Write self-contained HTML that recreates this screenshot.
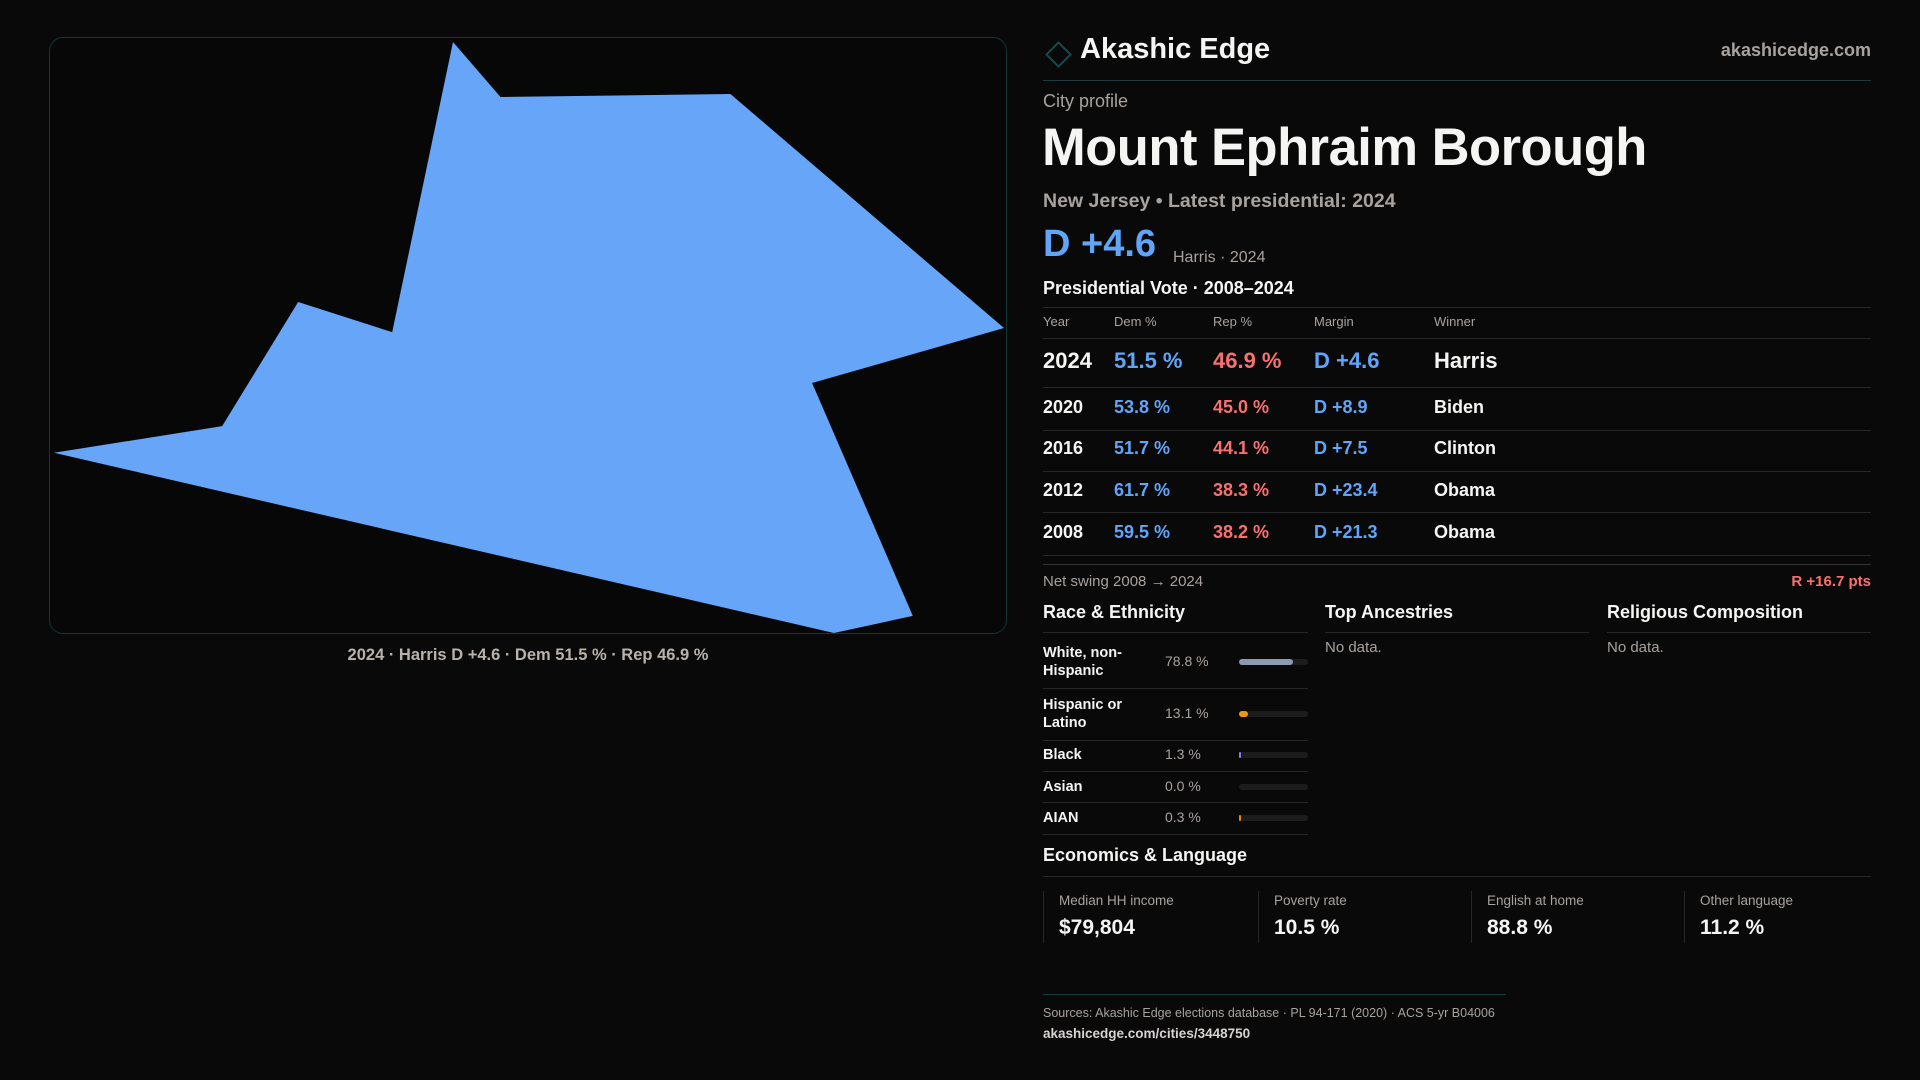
<!DOCTYPE html>
<html><head><meta charset="utf-8">
<style>
*{margin:0;padding:0;box-sizing:border-box}
body{width:1920px;height:1080px;background:#0a0909;color:#f5f5f4;font-family:"Liberation Sans",sans-serif;position:relative;overflow:hidden}
.a{position:absolute;white-space:nowrap}
.muted{color:#a8a29e}
.blue{color:#60a5fa}
.red{color:#f87171}
.hl{position:absolute;height:1px;background:#262626}
.bar{position:absolute;left:1239px;width:69px;height:6px;border-radius:3px;background:#1c1c1c}
.bar i{position:absolute;left:0;top:0;height:6px;border-radius:3px}
</style></head><body>
<div class="a" style="left:49px;top:37px;width:958px;height:597px;border:1px solid #12363a;border-radius:14px;background:#070707"></div>
<svg class="a" style="left:0;top:0" width="1010" height="640">
<polygon id="shape" fill="#66a5f8"/>
</svg>
<div class="a muted" style="left:49px;width:958px;text-align:center;top:646px;font-size:16.5px;font-weight:bold;color:#b8b2ac">2024 · Harris D +4.6 · Dem 51.5 % · Rep 46.9 %</div>

<div class="a" style="left:1049px;top:45px;width:19px;height:19px;border:2px solid #0f4c50;transform:rotate(45deg)"></div>
<div class="a" style="left:1080px;top:33px;font-size:29px;font-weight:bold">Akashic Edge</div>
<div class="a muted" style="right:49px;top:40px;font-size:18px;font-weight:bold">akashicedge.com</div>
<div class="hl" style="left:1043px;width:828px;top:80px;background:#1e3a3c"></div>
<div class="a muted" style="left:1043px;top:91px;font-size:18px">City profile</div>
<div class="a" style="left:1042px;top:117px;font-size:52.5px;font-weight:bold;letter-spacing:-0.5px">Mount Ephraim Borough</div>
<div class="a muted" style="left:1043px;top:190px;font-size:19.5px;font-weight:bold">New Jersey • Latest presidential: 2024</div>
<div class="a blue" style="left:1043px;top:223px;font-size:38px;font-weight:bold">D +4.6</div>
<div class="a muted" style="left:1173px;top:249px;font-size:16px">Harris · 2024</div>
<div class="a" style="left:1043px;top:278px;font-size:18px;font-weight:bold">Presidential Vote · 2008–2024</div>
<div class="hl" style="left:1043px;width:828px;top:307px"></div>
<div class="hl" style="left:1043px;width:828px;top:564px;background:#333"></div>
<div class="a muted" style="left:1043px;top:573px;font-size:15px">Net swing 2008 → 2024</div>
<div class="a red" style="right:49px;top:573px;font-size:15px;font-weight:bold">R +16.7 pts</div>

<div class="a" style="left:1043px;top:602px;font-size:18px;font-weight:bold">Race &amp; Ethnicity</div>
<div class="hl" style="left:1043px;width:265px;top:632px"></div>
<div class="a" style="left:1325px;top:602px;font-size:18px;font-weight:bold">Top Ancestries</div>
<div class="hl" style="left:1325px;width:264px;top:632px"></div>
<div class="a muted" style="left:1325px;top:639px;font-size:15px">No data.</div>
<div class="a" style="left:1607px;top:602px;font-size:18px;font-weight:bold">Religious Composition</div>
<div class="hl" style="left:1607px;width:264px;top:632px"></div>
<div class="a muted" style="left:1607px;top:639px;font-size:15px">No data.</div>

<div class="a" style="left:1043px;top:845px;font-size:18px;font-weight:bold">Economics &amp; Language</div>
<div class="hl" style="left:1043px;width:828px;top:876px"></div>

<div class="hl" style="left:1043px;width:463px;top:994px;background:#12393c"></div>
<div class="a muted" style="left:1043px;top:1006px;font-size:12.5px">Sources: Akashic Edge elections database · PL 94-171 (2020) · ACS 5-yr B04006</div>
<div class="a" style="left:1043px;top:1026px;font-size:13.5px;font-weight:bold;color:#d6d3d1">akashicedge.com/cities/3448750</div>

<script>
const shapeX=[0.42,0.47,0.712,1.0,0.798,0.904,0.821,0.0,0.177,0.257,0.356];
const shapeY=[0.0,0.093,0.088,0.484,0.577,0.971,1.0,0.695,0.65,0.44,0.491];
const years=["2024","2020","2016","2012","2008"];
const dem=[51.5,53.8,51.7,61.7,59.5];
const rep=[46.9,45.0,44.1,38.3,38.2];
const margins=["D +4.6","D +8.9","D +7.5","D +23.4","D +21.3"];
const winners=["Harris","Biden","Clinton","Obama","Obama"];
const raceLabels=["White, non-<br>Hispanic","Hispanic or<br>Latino","Black","Asian","AIAN"];
const raceValues=[78.8,13.1,1.3,0.0,0.3];
const raceColors=["#8a9ab0","#e89a10","#8b7cf6","#888","#e8860c"];
const statLabels=["Median HH income","Poverty rate","English at home","Other language"];
const statValues=["$79,804","10.5 %","88.8 %","11.2 %"];

const sx=v=>54+v*(1004-54), sy=v=>42+v*(633-42);
const poly=document.getElementById('shape');
poly.setAttribute('points',shapeX.map((x,i)=>sx(x)+','+sy(shapeY[i])).join(' '));

function mk(parent,html,style,name,inter){const d=document.createElement('div');d.className='a';d.innerHTML=html;d.style.cssText=style;


parent.appendChild(d);return d;}
const body=document.body;
const cols=[1043,1114,1213,1314,1434];
["Year","Dem %","Rep %","Margin","Winner"].forEach((h,i)=>mk(body,h,`left:${cols[i]}px;top:314px;font-size:13px;color:#a8a29e`,'table-header',false));
const hline=t=>{const l=document.createElement('div');l.className='hl';l.style.cssText=`left:1043px;width:828px;top:${t}px`;


body.appendChild(l);};
hline(338);
const rowY=[361,408,449,491,533], rowLine=[387,430,471,512,555];
years.forEach((y,i)=>{
  const fs=i===0?22:18, t=rowY[i]-fs*0.6;
  const pos=margins[i].startsWith('D');
  mk(body,y,`left:${cols[0]}px;top:${t}px;font-size:${fs}px;font-weight:bold`,'row-year',false);
  mk(body,dem[i].toFixed(1)+' %',`left:${cols[1]}px;top:${t}px;font-size:${fs}px;font-weight:bold;color:#60a5fa`,'row-dem',false);
  mk(body,rep[i].toFixed(1)+' %',`left:${cols[2]}px;top:${t}px;font-size:${fs}px;font-weight:bold;color:#f87171`,'row-rep',false);
  mk(body,margins[i],`left:${cols[3]}px;top:${t}px;font-size:${fs}px;font-weight:bold;color:${pos?'#60a5fa':'#f87171'}`,'row-margin',false);
  mk(body,winners[i],`left:${cols[4]}px;top:${t}px;font-size:${fs}px;font-weight:bold`,'row-winner',false);
  hline(rowLine[i]);
});
const raceY=[662,714,755,787,818], raceLine=[688,740,771,802,834];
raceValues.forEach((v,i)=>{
  const two=raceLabels[i].includes('<br>');
  mk(body,raceLabels[i],`left:1043px;top:${raceY[i]-(two?18:9)}px;font-size:14.5px;font-weight:bold;line-height:18px`,'race-label',false);
  mk(body,v.toFixed(1)+' %',`left:1165px;top:${raceY[i]-9}px;font-size:14px;color:#a8a29e`,'race-value',false);
  const b=document.createElement('div');b.className='bar';b.style.top=(raceY[i]-3)+'px';
  
  
  const f=document.createElement('i');f.style.width=(v>0?Math.max(v/100*69,2):0)+'px';f.style.background=raceColors[i];
  
  
  b.appendChild(f);body.appendChild(b);
  const l=document.createElement('div');l.className='hl';l.style.cssText=`left:1043px;width:265px;top:${raceLine[i]}px`;
  
  
  body.appendChild(l);
});
const sxs=[1043,1258,1471,1684];
statLabels.forEach((s,i)=>{
  const c=document.createElement('div');c.className='a';c.style.cssText=`left:${sxs[i]}px;top:891px;width:2px;height:52px;border-left:1px solid #262626`;
  
  
  body.appendChild(c);
  mk(body,s,`left:${sxs[i]+16}px;top:893px;font-size:13.5px;color:#a8a29e`,'stat-label',false);
  mk(body,statValues[i],`left:${sxs[i]+16}px;top:916px;font-size:21px;font-weight:bold`,'stat-value',false);
});
</script>
</body></html>
